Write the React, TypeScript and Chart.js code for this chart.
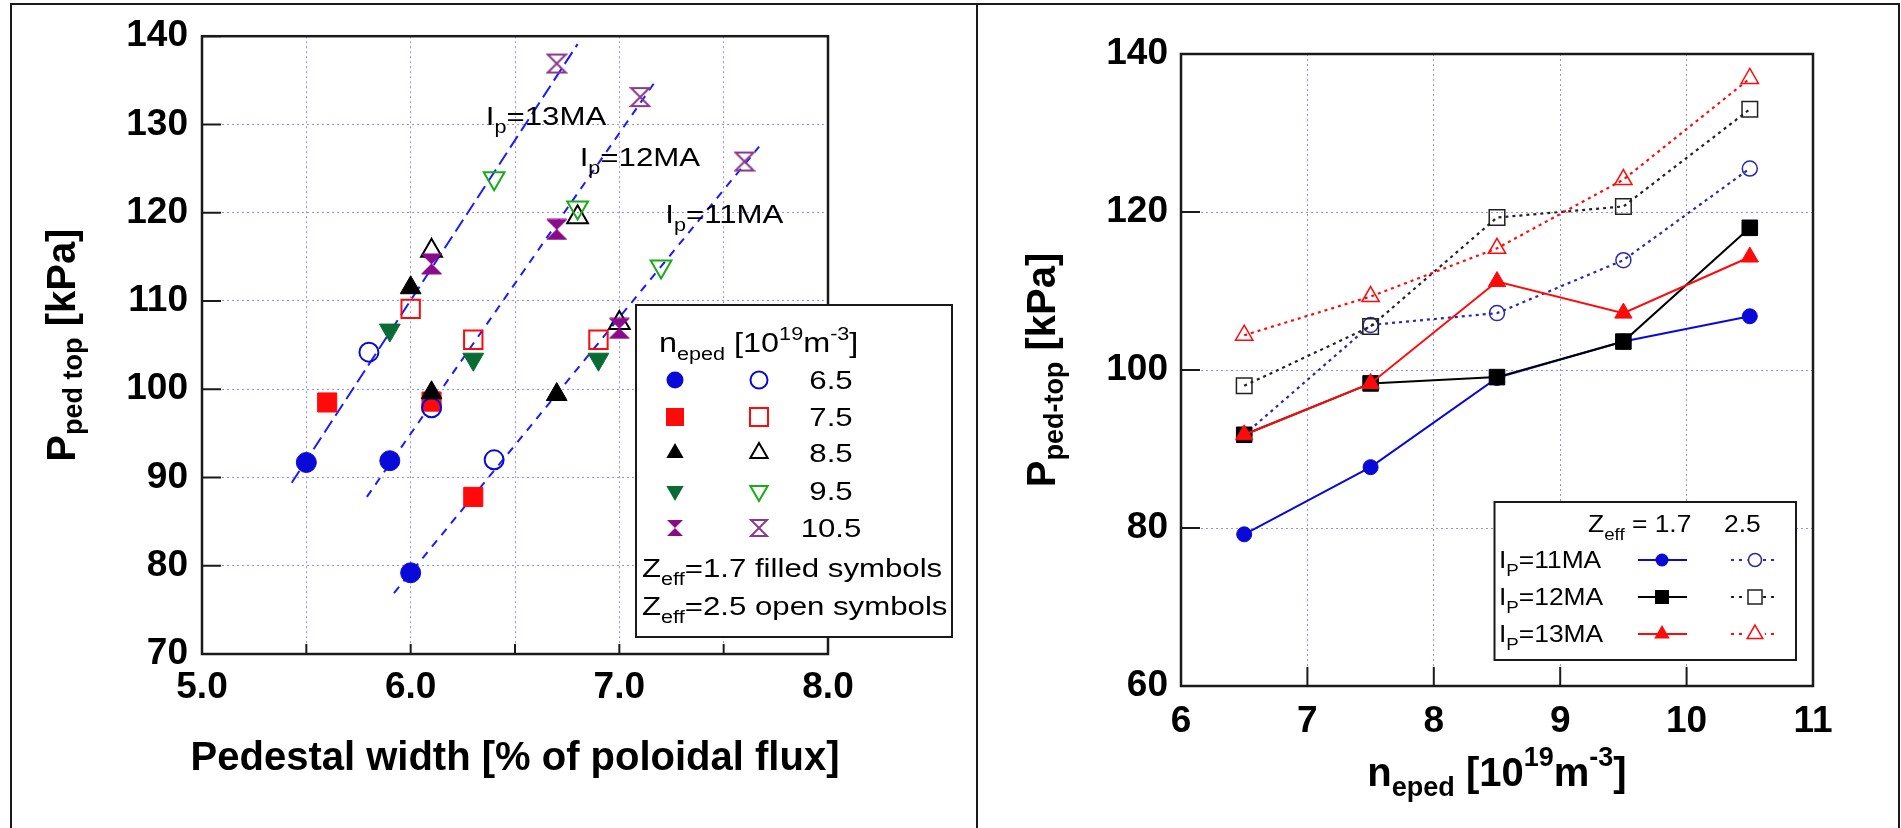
import React, { useEffect, useRef } from 'react';
import { Chart, registerables } from 'chart.js';

Chart.register(...registerables);

const FONT = '"Liberation Sans", Arial, Helvetica, sans-serif';

// ---------------- Left panel data ----------------
const leftXTicks = [5, 5.5, 6, 6.5, 7, 7.5, 8];
const leftXTickLabels = ['5.0', '', '6.0', '', '7.0', '', '8.0'];
const leftYTicks = [70, 80, 90, 100, 110, 120, 130, 140];
const leftYTickLabels = ['70', '80', '90', '100', '110', '120', '130', '140'];

const densityLabels = ['6.5', '7.5', '8.5', '9.5', '10.5'];

const n65FilledX = [5.5, 5.9, 6.0];
const n65FilledY = [91.7, 91.9, 79.2];
const n65OpenX = [5.8, 6.1, 6.4];
const n65OpenY = [104.2, 97.9, 92.0];

const n75FilledX = [5.6, 6.1, 6.3];
const n75FilledY = [98.5, 98.6, 87.8];
const n75OpenX = [6.0, 6.3, 6.9];
const n75OpenY = [109.1, 105.6, 105.6];

const n85FilledX = [6.0, 6.1, 6.7];
const n85FilledY = [111.5, 99.6, 99.4];
const n85OpenX = [6.1, 6.8, 7.0];
const n85OpenY = [115.7, 119.5, 107.5];

const n95FilledX = [5.9, 6.3, 6.9];
const n95FilledY = [106.7, 103.4, 103.4];
const n95OpenX = [6.4, 6.8, 7.2];
const n95OpenY = [123.9, 120.6, 113.9];

const n105FilledX = [6.1, 6.7, 7.0];
const n105FilledY = [114.2, 118.1, 106.9];
const n105OpenX = [6.7, 7.1, 7.6];
const n105OpenY = [136.9, 133.1, 125.8];

const fit13X = [5.43, 6.8];
const fit13Y = [89.4, 139.1];
const fit12X = [5.79, 7.17];
const fit12Y = [87.8, 134.8];
const fit11X = [5.92, 7.67];
const fit11Y = [76.9, 127.5];

// ---------------- Right panel data ----------------
const rightXTicks = [6, 7, 8, 9, 10, 11];
const rightXTickLabels = ['6', '7', '8', '9', '10', '11'];
const rightYTicks = [60, 80, 100, 120, 140];
const rightYTickLabels = ['60', '80', '100', '120', '140'];

const nEped = [6.5, 7.5, 8.5, 9.5, 10.5];
const ip11Z17 = [79.2, 87.7, 99.0, 103.6, 106.8];
const ip12Z17 = [91.8, 98.3, 99.1, 103.6, 118.0];
const ip13Z17 = [91.8, 98.3, 111.2, 107.2, 114.3];
const ip11Z25 = [91.8, 105.7, 107.2, 113.9, 125.5];
const ip12Z25 = [98.0, 105.5, 119.3, 120.7, 133.0];
const ip13Z25 = [104.4, 109.3, 115.4, 124.1, 136.9];

// ---------------- styles ----------------
const BLUE = '#0a0ad8';
const NAVY = '#2a2aa8';
const RED = '#ff0a0a';
const BLACK = '#000000';
const GREEN_F = '#0b6b35';
const GREEN_O = '#1aaa1a';
const PURPLE_F = '#8b0a8b';
const PURPLE_O = '#8b3a8b';
const GRID = 'rgba(110,110,235,0.75)';
const FIT = '#1a1aff';

type Run = { t: string; s: number; dy?: number };

function drawRuns(
  ctx: CanvasRenderingContext2D,
  list: Run[],
  x: number,
  y: number,
  o: { weight?: string; sx?: number; align?: 'left' | 'center'; rot?: boolean; color?: string } = {}
) {
  const sx = o.sx ?? 1;
  const weight = o.weight ?? 'normal';
  let w = 0;
  for (const r of list) {
    ctx.font = `${weight} ${r.s}px ${FONT}`;
    w += ctx.measureText(r.t).width;
  }
  ctx.save();
  ctx.translate(x, y);
  if (o.rot) ctx.rotate(-Math.PI / 2);
  ctx.scale(sx, 1);
  let cx = o.align === 'center' ? -w / 2 : 0;
  ctx.fillStyle = o.color ?? '#000';
  ctx.textBaseline = 'alphabetic';
  ctx.textAlign = 'left';
  for (const r of list) {
    ctx.font = `${weight} ${r.s}px ${FONT}`;
    ctx.fillText(r.t, cx, r.dy ?? 0);
    cx += ctx.measureText(r.t).width;
  }
  ctx.restore();
}

function hourglass(size: number, color: string, filled: boolean, lw: number) {
  const c = document.createElement('canvas');
  c.width = size;
  c.height = size;
  const g = c.getContext('2d')!;
  const m = lw;
  g.beginPath();
  g.moveTo(m, m);
  g.lineTo(size - m, m);
  g.lineTo(m, size - m);
  g.lineTo(size - m, size - m);
  g.closePath();
  if (filled) {
    g.fillStyle = color;
    g.fill();
  }
  g.strokeStyle = color;
  g.lineWidth = lw;
  g.lineJoin = 'miter';
  g.stroke();
  return c;
}

function marker(
  ctx: CanvasRenderingContext2D,
  kind: string,
  x: number,
  y: number,
  r: number,
  color: string,
  filled: boolean,
  lw = 2
) {
  ctx.save();
  ctx.beginPath();
  if (kind === 'circle') {
    ctx.arc(x, y, r, 0, Math.PI * 2);
  } else if (kind === 'rect') {
    ctx.rect(x - r, y - r, 2 * r, 2 * r);
  } else if (kind === 'tri' || kind === 'down') {
    const s = kind === 'tri' ? 1 : -1;
    const h = r * 1.5;
    const hw = r * 0.866;
    ctx.moveTo(x, y - s * r);
    ctx.lineTo(x + hw, y - s * (r - h));
    ctx.lineTo(x - hw, y - s * (r - h));
    ctx.closePath();
  } else if (kind === 'hour') {
    ctx.moveTo(x - r, y - r);
    ctx.lineTo(x + r, y - r);
    ctx.lineTo(x - r, y + r);
    ctx.lineTo(x + r, y + r);
    ctx.closePath();
  }
  if (filled) {
    ctx.fillStyle = color;
    ctx.fill();
  } else {
    ctx.strokeStyle = color;
    ctx.lineWidth = lw;
    ctx.stroke();
  }
  ctx.restore();
}

function framePlugin(tickX: number, tickY: number) {
  return {
    id: 'frame',
    beforeDatasetsDraw(chart: any) {
      const { ctx, chartArea: a, scales } = chart;
      ctx.save();
      ctx.strokeStyle = '#1a1a1a';
      ctx.lineWidth = 2;
      ctx.beginPath();
      for (const t of scales.x.ticks) {
        const px = scales.x.getPixelForValue(t.value);
        ctx.moveTo(px, a.bottom);
        ctx.lineTo(px, a.bottom - tickX);
      }
      for (const t of scales.y.ticks) {
        const py = scales.y.getPixelForValue(t.value);
        ctx.moveTo(a.left, py);
        ctx.lineTo(a.left + tickY, py);
      }
      ctx.stroke();
      ctx.lineWidth = 2.5;
      ctx.strokeRect(a.left, a.top, a.right - a.left, a.bottom - a.top);
      ctx.restore();
    },
  };
}

function pts(xs: number[], ys: number[]) {
  return xs.map((x, i) => ({ x, y: ys[i] }));
}

function tickFont() {
  return { family: FONT, size: 37, weight: 'bold' as const };
}

function buildScale(
  ticks: number[],
  labels: string[],
  min: number,
  max: number,
  fit: { width?: number; height?: number },
  padding: number
) {
  return {
    type: 'linear' as const,
    min,
    max,
    afterBuildTicks: (s: any) => {
      s.ticks = ticks.map((v) => ({ value: v }));
    },
    afterFit: (s: any) => {
      if (fit.width !== undefined) s.width = fit.width;
      if (fit.height !== undefined) s.height = fit.height;
    },
    grid: { color: GRID, lineWidth: 1, drawTicks: false },
    border: { display: false, dash: [2, 3] },
    ticks: {
      font: tickFont(),
      color: '#000',
      padding,
      autoSkip: false,
      maxRotation: 0,
      callback: (v: any) => {
        const i = ticks.findIndex((t) => Math.abs(t - Number(v)) < 1e-9);
        return i >= 0 ? labels[i] : '';
      },
    },
  };
}

function LeftChart() {
  const ref = useRef<HTMLCanvasElement>(null);
  useEffect(() => {
    const hgF = hourglass(22, PURPLE_F, true, 1);
    const hgO = hourglass(22, PURPLE_O, false, 2);
    const filled = (xs: number[], ys: number[], style: any, r: number, color: string, rot = 0) => ({
      data: pts(xs, ys),
      pointStyle: style,
      pointRadius: r,
      pointRotation: rot,
      pointBackgroundColor: color,
      pointBorderColor: color,
      pointBorderWidth: 1,
      showLine: false,
    });
    const open = (xs: number[], ys: number[], style: any, r: number, color: string, rot = 0) => ({
      data: pts(xs, ys),
      pointStyle: style,
      pointRadius: r,
      pointRotation: rot,
      pointBackgroundColor: 'rgba(0,0,0,0)',
      pointBorderColor: color,
      pointBorderWidth: 2,
      showLine: false,
    });
    const fitLine = (xs: number[], ys: number[], dash: number[]) => ({
      data: pts(xs, ys),
      showLine: true,
      borderColor: FIT,
      borderWidth: 2,
      borderDash: dash,
      pointRadius: 0,
      fill: false,
    });
    const datasets: any[] = [
      open(n105OpenX, n105OpenY, hgO, 10, PURPLE_O),
      filled(n105FilledX, n105FilledY, hgF, 10, PURPLE_F),
      open(n95OpenX, n95OpenY, 'triangle', 12, GREEN_O, 180),
      filled(n95FilledX, n95FilledY, 'triangle', 12, GREEN_F, 180),
      open(n85OpenX, n85OpenY, 'triangle', 12, BLACK),
      filled(n85FilledX, n85FilledY, 'triangle', 12, BLACK),
      open(n65OpenX, n65OpenY, 'circle', 9.5, BLUE),
      open(n75OpenX, n75OpenY, 'rect', 13, RED),
      filled(n75FilledX, n75FilledY, 'rect', 13.5, RED),
      filled(n65FilledX, n65FilledY, 'circle', 10, BLUE),
      fitLine(fit13X, fit13Y, [14, 6]),
      fitLine(fit12X, fit12Y, [8, 7]),
      fitLine(fit11X, fit11Y, [8, 7]),
    ];

    const overlay = {
      id: 'leftOverlay',
      afterDraw(chart: any) {
        const { ctx, scales } = chart;
        const X = (v: number) => scales.x.getPixelForValue(v);
        const Y = (v: number) => scales.y.getPixelForValue(v);
        // annotations
        const ann = (label: string, x: number, y: number) =>
          drawRuns(ctx, [{ t: 'I', s: 26 }, { t: 'p', s: 18, dy: 8 }, { t: '=' + label, s: 26 }], X(x), Y(y), {
            sx: 1.2,
          });
        ann('13MA', 6.36, 129.9);
        ann('12MA', 6.81, 125.3);
        ann('11MA', 7.22, 118.8);

        // legend box
        const bx = 636, by = 305, bw = 316, bh = 332;
        ctx.save();
        ctx.fillStyle = '#fff';
        ctx.fillRect(bx, by, bw, bh);
        ctx.strokeStyle = '#1a1a1a';
        ctx.lineWidth = 2;
        ctx.strokeRect(bx, by, bw, bh);
        ctx.restore();
        drawRuns(
          ctx,
          [
            { t: 'n', s: 27 },
            { t: 'eped', s: 18, dy: 8 },
            { t: ' [10', s: 27 },
            { t: '19', s: 18, dy: -12 },
            { t: 'm', s: 27 },
            { t: '-3', s: 18, dy: -12 },
            { t: ']', s: 27 },
          ],
          659,
          352,
          { sx: 1.2 }
        );
        const rows = [380, 417, 453, 491, 528];
        const kinds = [
          ['circle', BLUE, BLUE, 8.5],
          ['rect', RED, RED, 9],
          ['tri', BLACK, BLACK, 10],
          ['down', GREEN_F, GREEN_O, 10],
          ['hour', PURPLE_F, PURPLE_O, 8],
        ] as const;
        rows.forEach((ry, i) => {
          const [k, cf, co, r] = kinds[i];
          marker(ctx, k, 675, ry, r, cf, true);
          marker(ctx, k, 759, ry, r, co, false, 2);
          drawRuns(ctx, [{ t: densityLabels[i], s: 26 }], 831, ry + 9, { sx: 1.2, align: 'center' });
        });
        drawRuns(ctx, [{ t: 'Z', s: 26 }, { t: 'eff', s: 18, dy: 8 }, { t: '=1.7 filled symbols', s: 26 }], 642, 577, {
          sx: 1.2,
        });
        drawRuns(ctx, [{ t: 'Z', s: 26 }, { t: 'eff', s: 18, dy: 8 }, { t: '=2.5 open symbols', s: 26 }], 642, 615, {
          sx: 1.2,
        });

        // axis titles
        const a = chart.chartArea;
        drawRuns(ctx, [{ t: 'Pedestal width [% of poloidal flux]', s: 40 }], (a.left + a.right) / 2, 770, {
          weight: 'bold',
          align: 'center',
        });
        drawRuns(
          ctx,
          [
            { t: 'P', s: 40 },
            { t: 'ped top', s: 27, dy: 7 },
            { t: ' [kPa]', s: 40 },
          ],
          75,
          (a.top + a.bottom) / 2,
          { weight: 'bold', align: 'center', rot: true }
        );
      },
    };

    const chart = new Chart(ref.current!, {
      type: 'scatter',
      data: { datasets },
      options: {
        responsive: false,
        animation: false,
        devicePixelRatio: 1,
        events: [],
        layout: { padding: { left: 0, top: 26, right: 149, bottom: 0 } },
        plugins: { legend: { display: false }, tooltip: { enabled: false } },
        scales: {
          x: buildScale(leftXTicks, leftXTickLabels, 5, 8, { height: 174 }, 12),
          y: buildScale(leftYTicks, leftYTickLabels, 70, 140, { width: 202 }, 14),
        },
      } as any,
      plugins: [framePlugin(10, 19), overlay],
    });
    return () => chart.destroy();
  }, []);
  return (
    <canvas
      ref={ref}
      width={977}
      height={828}
      style={{ position: 'absolute', left: 0, top: 0, width: 977, height: 828 }}
    />
  );
}

function RightChart() {
  const ref = useRef<HTMLCanvasElement>(null);
  useEffect(() => {
    const solid = (ys: number[], color: string, style: string, r: number) => ({
      data: pts(nEped, ys),
      showLine: true,
      borderColor: color,
      borderWidth: 2,
      pointStyle: style,
      pointRadius: r,
      pointBackgroundColor: color,
      pointBorderColor: color,
      pointBorderWidth: 1,
      fill: false,
    });
    const dotted = (ys: number[], color: string, style: string, r: number) => ({
      data: pts(nEped, ys),
      showLine: true,
      borderColor: color,
      borderWidth: 2.2,
      borderDash: [3, 4],
      pointStyle: style,
      pointRadius: r,
      pointBackgroundColor: 'rgba(0,0,0,0)',
      pointBorderColor: color,
      pointBorderWidth: 1.5,
      fill: false,
    });
    // listed top-most first
    const datasets: any[] = [
      solid(ip13Z17, RED, 'triangle', 10),
      solid(ip12Z17, BLACK, 'rect', 11),
      solid(ip11Z17, BLUE, 'circle', 7.5),
      dotted(ip13Z25, RED, 'triangle', 10),
      dotted(ip12Z25, '#222', 'rect', 11),
      dotted(ip11Z25, NAVY, 'circle', 7.5),
    ];

    const overlay = {
      id: 'rightOverlay',
      afterDraw(chart: any) {
        const { ctx } = chart;
        const bx = 517.5, by = 502, bw = 301.5, bh = 158;
        ctx.save();
        ctx.fillStyle = '#fff';
        ctx.fillRect(bx, by, bw, bh);
        ctx.strokeStyle = '#1a1a1a';
        ctx.lineWidth = 2;
        ctx.strokeRect(bx, by, bw, bh);
        ctx.restore();
        drawRuns(ctx, [{ t: 'Z', s: 24 }, { t: 'eff', s: 17, dy: 8 }, { t: ' = 1.7', s: 24 }], 611, 532, { sx: 1.1 });
        drawRuns(ctx, [{ t: '2.5', s: 24 }], 747, 532, { sx: 1.1 });
        const rows = [
          ['=11MA', BLUE, NAVY, 'circle', 568, 6.5],
          ['=12MA', BLACK, '#222', 'rect', 605, 7],
          ['=13MA', RED, RED, 'tri', 642, 9],
        ] as const;
        for (const [lab, c1, c2, k, base, r] of rows) {
          drawRuns(ctx, [{ t: 'I', s: 24 }, { t: 'P', s: 17, dy: 8 }, { t: lab, s: 24 }], 522, base, { sx: 1.1 });
          const yy = base - 8;
          ctx.save();
          ctx.strokeStyle = c1;
          ctx.lineWidth = 2;
          ctx.beginPath();
          ctx.moveTo(661, yy);
          ctx.lineTo(710, yy);
          ctx.stroke();
          ctx.strokeStyle = c2;
          ctx.setLineDash([3, 5]);
          ctx.beginPath();
          ctx.moveTo(754, yy);
          ctx.lineTo(797, yy);
          ctx.stroke();
          ctx.restore();
          marker(ctx, k, 685, yy, r, c1, true);
          ctx.save();
          ctx.fillStyle = '#fff';
          ctx.beginPath();
          ctx.arc(778, yy, r + 1, 0, Math.PI * 2);
          ctx.fill();
          ctx.restore();
          marker(ctx, k, 778, yy, r, c2, false, 1.5);
        }

        const a = chart.chartArea;
        drawRuns(
          ctx,
          [
            { t: 'n', s: 40 },
            { t: 'eped', s: 27, dy: 10 },
            { t: ' [10', s: 40 },
            { t: '19', s: 27, dy: -20 },
            { t: 'm', s: 40 },
            { t: '-3', s: 27, dy: -20 },
            { t: ']', s: 40 },
          ],
          (a.left + a.right) / 2,
          786,
          { weight: 'bold', align: 'center' }
        );
        drawRuns(
          ctx,
          [
            { t: 'P', s: 40 },
            { t: 'ped-top', s: 27, dy: 8 },
            { t: ' [kPa]', s: 40 },
          ],
          78,
          (a.top + a.bottom) / 2,
          { weight: 'bold', align: 'center', rot: true }
        );
      },
    };

    const chart = new Chart(ref.current!, {
      type: 'scatter',
      data: { datasets },
      options: {
        responsive: false,
        animation: false,
        devicePixelRatio: 1,
        events: [],
        layout: { padding: { left: 0, top: 54, right: 88, bottom: 0 } },
        plugins: { legend: { display: false }, tooltip: { enabled: false } },
        scales: {
          x: buildScale(rightXTicks, rightXTickLabels, 6, 11, { height: 142 }, 14),
          y: buildScale(rightYTicks, rightYTickLabels, 60, 140, { width: 204 }, 13),
        },
      } as any,
      plugins: [framePlugin(19, 19), overlay],
    });
    return () => chart.destroy();
  }, []);
  return (
    <canvas
      ref={ref}
      width={924}
      height={828}
      style={{ position: 'absolute', left: 977, top: 0, width: 924, height: 828 }}
    />
  );
}

export default function App() {
  const line = (s: React.CSSProperties) => (
    <div style={{ position: 'absolute', background: '#1a1a1a', ...s }} />
  );
  return (
    <div
      style={{
        position: 'absolute',
        left: 0,
        top: 0,
        width: 1901,
        height: 828,
        background: '#fff',
        overflow: 'hidden',
      }}
    >
      <LeftChart />
      <RightChart />
      {line({ left: 10, top: 3, width: 1890, height: 2 })}
      {line({ left: 10, top: 3, width: 2, height: 825 })}
      {line({ left: 976, top: 3, width: 2, height: 825 })}
      {line({ left: 1898, top: 3, width: 2, height: 825 })}
    </div>
  );
}
